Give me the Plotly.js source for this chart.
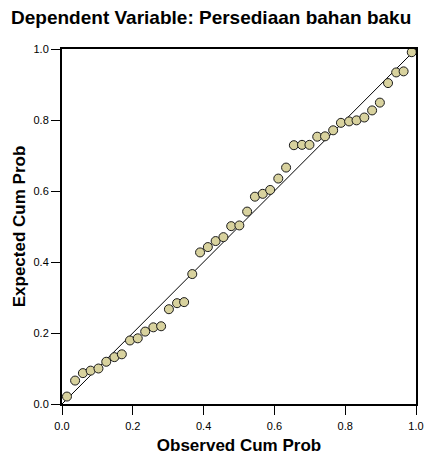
<!DOCTYPE html>
<html>
<head>
<meta charset="utf-8">
<script src="https://cdn.plot.ly/plotly-3.0.1.min.js"></script>
<style>html,body{margin:0;padding:0;background:#fff;}#chart{width:425px;height:457px;}</style>
</head>
<body>
<div id="chart"></div>
<script>
const observedCumProb = [0.014,0.037,0.059,0.081,0.103,0.125,0.148,0.169,0.192,0.214,0.235,0.258,0.280,0.302,0.325,0.345,0.368,0.390,0.412,0.434,0.456,0.478,0.501,0.523,0.545,0.567,0.588,0.611,0.633,0.655,0.678,0.699,0.721,0.743,0.766,0.788,0.811,0.832,0.854,0.876,0.898,0.921,0.944,0.965,0.988];
const expectedCumProb = [0.021,0.066,0.087,0.094,0.100,0.119,0.132,0.140,0.179,0.185,0.204,0.216,0.219,0.267,0.284,0.287,0.366,0.427,0.442,0.459,0.470,0.501,0.503,0.542,0.584,0.592,0.603,0.635,0.666,0.729,0.730,0.730,0.753,0.754,0.771,0.792,0.796,0.799,0.807,0.827,0.849,0.904,0.934,0.937,0.991];
const refLineX = [0, 1];
const refLineY = [0, 1];
const tickVals = [0, 0.2, 0.4, 0.6, 0.8, 1.0];
const tickText = ["0.0", "0.2", "0.4", "0.6", "0.8", "1.0"];

const font = "Liberation Sans, Arial, sans-serif";
const traces = [
  {x: refLineX, y: refLineY, mode: "lines", line: {color: "#000", width: 1}, hoverinfo: "skip", showlegend: false, cliponaxis: false},
  {x: observedCumProb, y: expectedCumProb, mode: "markers", showlegend: false, cliponaxis: false,
   marker: {size: 9, color: "#d8d29e", line: {color: "#1a1a1a", width: 1}}}
];
const axisCommon = {
  range: [0, 1], tickvals: tickVals, ticktext: tickText, ticks: "outside", ticklen: 9, tickwidth: 1, tickcolor: "#000",
  showline: true, linecolor: "#000", linewidth: 2, mirror: true, showgrid: false, zeroline: false,
  tickfont: {family: font, size: 11, color: "#000"}
};
const layout = {
  width: 425, height: 457,
  margin: {l: 62, r: 9, t: 49, b: 53},
  paper_bgcolor: "#fff", plot_bgcolor: "#fff",
  title: {text: "<b>Dependent Variable: Persediaan bahan baku</b>", x: 0.026, xanchor: "left", y: 0.962, yanchor: "middle",
          font: {family: font, size: 19, color: "#000"}},
  xaxis: Object.assign({}, axisCommon, {ticklabelstandoff: 2, title: {text: "<b>Observed Cum Prob</b>", standoff: 8, font: {family: font, size: 17, color: "#000"}}}),
  yaxis: Object.assign({}, axisCommon, {ticklabelstandoff: 0, title: {text: "<b>Expected Cum Prob</b>", standoff: 4, font: {family: font, size: 17, color: "#000"}}})
};
Plotly.newPlot("chart", traces, layout, {displayModeBar: false, staticPlot: true});
</script>
</body>
</html>
